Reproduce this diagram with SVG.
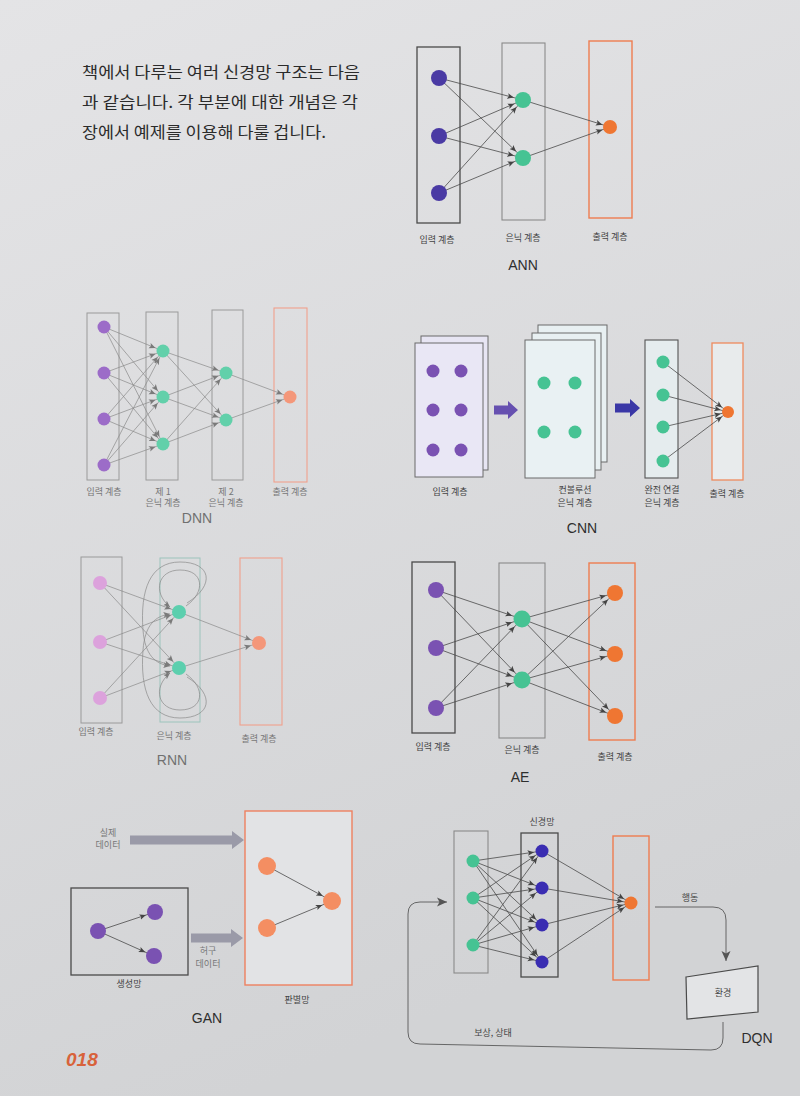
<svg xmlns="http://www.w3.org/2000/svg" width="800" height="1096" viewBox="0 0 800 1096">
<defs>
<linearGradient id="paper" x1="0" y1="0" x2="0.3" y2="1">
<stop offset="0" stop-color="#e4e4e6"/><stop offset="1" stop-color="#d2d3d5"/>
</linearGradient>
<marker id="m7" viewBox="0 0 14 8" refX="14" refY="4" markerWidth="14" markerHeight="8" orient="auto" markerUnits="userSpaceOnUse"><path d="M0,1.2 L6.5,4 L0,6.8 L1.5,4z" fill="#444"/></marker>
<marker id="m8" viewBox="0 0 14.5 8" refX="14.5" refY="4" markerWidth="14.5" markerHeight="8" orient="auto" markerUnits="userSpaceOnUse"><path d="M0,1.2 L6.5,4 L0,6.8 L1.5,4z" fill="#444"/></marker>
<marker id="m9" viewBox="0 0 16 8" refX="16" refY="4" markerWidth="16" markerHeight="8" orient="auto" markerUnits="userSpaceOnUse"><path d="M0,1.2 L6.5,4 L0,6.8 L1.5,4z" fill="#444"/></marker>
<marker id="m10" viewBox="0 0 17 8" refX="17" refY="4" markerWidth="17" markerHeight="8" orient="auto" markerUnits="userSpaceOnUse"><path d="M0,1.2 L6.5,4 L0,6.8 L1.5,4z" fill="#444"/></marker>
<marker id="lm7" viewBox="0 0 14.5 8" refX="14.5" refY="4" markerWidth="14.5" markerHeight="8" orient="auto" markerUnits="userSpaceOnUse"><path d="M0,1.2 L6.5,4 L0,6.8 L1.5,4z" fill="#7a7a7a"/></marker>
<marker id="lm8" viewBox="0 0 15 8" refX="15" refY="4" markerWidth="15" markerHeight="8" orient="auto" markerUnits="userSpaceOnUse"><path d="M0,1.2 L6.5,4 L0,6.8 L1.5,4z" fill="#7a7a7a"/></marker>
<marker id="lt" viewBox="0 0 7 8" refX="6.5" refY="4" markerWidth="7" markerHeight="8" orient="auto" markerUnits="userSpaceOnUse"><path d="M0,1.2 L6.5,4 L0,6.8 L1.5,4z" fill="#7a7a7a"/></marker>
<marker id="big" viewBox="0 0 10 10" refX="10" refY="5" markerWidth="10" markerHeight="10" orient="auto" markerUnits="userSpaceOnUse"><path d="M0,0.5 L10,5 L0,9.5 L2.5,5z" fill="#555"/></marker>
<style>
.box{fill:none;stroke:#4a4a4a;stroke-width:1.3}
.boxg{fill:none;stroke:#8a8a8a;stroke-width:1.1}
.boxl{fill:none;stroke:#9a9a9a;stroke-width:1}
.boxo{fill:none;stroke:#ee7d50;stroke-width:1.4}
.boxol{fill:none;stroke:#f0a08c;stroke-width:1.1}
.c{stroke:#4a4a4a;stroke-width:0.8;fill:none}
.cl{stroke:#8a8a8a;stroke-width:0.7;fill:none}
.lbl{font-family:"Noto Sans CJK KR",sans-serif;font-size:9px;fill:#444;text-anchor:middle}
.lbll{font-family:"Noto Sans CJK KR",sans-serif;font-size:9px;fill:#777;text-anchor:middle}
.ttl{font-family:"Liberation Sans",Arial,sans-serif;font-size:14px;fill:#2e2e2e;text-anchor:middle}
.ttll{font-family:"Liberation Sans",Arial,sans-serif;font-size:14px;fill:#707070;text-anchor:middle}
.intro{font-family:"Noto Sans CJK KR",sans-serif;font-size:15.5px;fill:#2b2b2b}
.pu{fill:#4a3aa4}.pu2{fill:#7a52b2}.pul{fill:#9c6cc8}.pk{fill:#dca2dc}
.gr{fill:#46c393}.grl{fill:#62d0aa}.tl{fill:#5ccfae}
.or{fill:#ef7632}.orl{fill:#f4977a}.sal{fill:#f48e62}
.bl{fill:#3a2db2}
</style>
</defs>
<rect width="800" height="1096" fill="url(#paper)"/>

<g id="intro-text" class="intro">
<text x="82" y="78" textLength="278" lengthAdjust="spacingAndGlyphs">책에서 다루는 여러 신경망 구조는 다음</text>
<text x="82" y="108" textLength="276" lengthAdjust="spacingAndGlyphs">과 같습니다. 각 부분에 대한 개념은 각</text>
<text x="82" y="138" textLength="244" lengthAdjust="spacingAndGlyphs">장에서 예제를 이용해 다룰 겁니다.</text>
</g>

<!-- ANN -->
<g id="ann">
<g id="ann-layers">
<rect id="ann-input-layer" class="box" x="417" y="47" width="43" height="176"/>
<rect id="ann-hidden-layer" class="boxg" x="502" y="43" width="43" height="177"/>
<rect id="ann-output-layer" class="boxo" x="589" y="41" width="43" height="177"/>
</g>
<g id="ann-connectors" class="c">
<path d="M439,78 L523,100" marker-end="url(#m9)"/>
<path d="M439,78 L523,158" marker-end="url(#m9)"/>
<path d="M439,136 L523,100" marker-end="url(#m9)"/>
<path d="M439,136 L523,158" marker-end="url(#m9)"/>
<path d="M439,193 L523,100" marker-end="url(#m9)"/>
<path d="M439,193 L523,158" marker-end="url(#m9)"/>
<path d="M523,100 L610,127" marker-end="url(#m8)"/>
<path d="M523,158 L610,127" marker-end="url(#m8)"/>
</g>
<g id="ann-i1"><circle class="pu" cx="439" cy="78" r="8"/></g>
<g id="ann-i2"><circle class="pu" cx="439" cy="136" r="8"/></g>
<g id="ann-i3"><circle class="pu" cx="439" cy="193" r="8"/></g>
<g id="ann-h1"><circle class="gr" cx="523" cy="100" r="8"/></g>
<g id="ann-h2"><circle class="gr" cx="523" cy="158" r="8"/></g>
<g id="ann-o1"><circle class="or" cx="610" cy="127" r="7"/></g>
<text class="lbl" x="437" y="243">입력 계층</text>
<text class="lbl" x="523" y="241">은닉 계층</text>
<text class="lbl" x="610" y="240">출력 계층</text>
<text class="ttl" x="523" y="270">ANN</text>
</g>

<!-- DNN -->
<g id="dnn">
<g id="dnn-layers">
<rect id="dnn-input-layer" class="boxl" x="87" y="313" width="32" height="167"/>
<rect id="dnn-hidden1-layer" class="boxl" x="146" y="312" width="32" height="168"/>
<rect id="dnn-hidden2-layer" class="boxl" x="212" y="310" width="31" height="170"/>
<rect id="dnn-output-layer" class="boxol" x="274" y="308" width="33" height="174"/>
</g>
<g id="dnn-connectors" class="cl">
<path d="M104,327 L163,351" marker-end="url(#lm7)"/>
<path d="M104,327 L163,397" marker-end="url(#lm7)"/>
<path d="M104,327 L163,444" marker-end="url(#lm7)"/>
<path d="M104,373 L163,351" marker-end="url(#lm7)"/>
<path d="M104,373 L163,397" marker-end="url(#lm7)"/>
<path d="M104,373 L163,444" marker-end="url(#lm7)"/>
<path d="M104,419 L163,351" marker-end="url(#lm7)"/>
<path d="M104,419 L163,397" marker-end="url(#lm7)"/>
<path d="M104,419 L163,444" marker-end="url(#lm7)"/>
<path d="M104,465 L163,351" marker-end="url(#lm7)"/>
<path d="M104,465 L163,397" marker-end="url(#lm7)"/>
<path d="M104,465 L163,444" marker-end="url(#lm7)"/>
<path d="M163,351 L226,373" marker-end="url(#lm7)"/>
<path d="M163,351 L226,420" marker-end="url(#lm7)"/>
<path d="M163,397 L226,373" marker-end="url(#lm7)"/>
<path d="M163,397 L226,420" marker-end="url(#lm7)"/>
<path d="M163,444 L226,373" marker-end="url(#lm7)"/>
<path d="M163,444 L226,420" marker-end="url(#lm7)"/>
<path d="M226,373 L290,397" marker-end="url(#lm7)"/>
<path d="M226,420 L290,397" marker-end="url(#lm7)"/>
</g>
<g id="dnn-i1"><circle class="pul" cx="104" cy="327" r="6.5"/></g>
<g id="dnn-i2"><circle class="pul" cx="104" cy="373" r="6.5"/></g>
<g id="dnn-i3"><circle class="pul" cx="104" cy="419" r="6.5"/></g>
<g id="dnn-i4"><circle class="pul" cx="104" cy="465" r="6.5"/></g>
<g id="dnn-h11"><circle class="grl" cx="163" cy="351" r="6.5"/></g>
<g id="dnn-h12"><circle class="grl" cx="163" cy="397" r="6.5"/></g>
<g id="dnn-h13"><circle class="grl" cx="163" cy="444" r="6.5"/></g>
<g id="dnn-h21"><circle class="grl" cx="226" cy="373" r="6.5"/></g>
<g id="dnn-h22"><circle class="grl" cx="226" cy="420" r="6.5"/></g>
<g id="dnn-o1"><circle class="orl" cx="290" cy="397" r="6.5"/></g>
<text class="lbll" x="104" y="495">입력 계층</text>
<text class="lbll" x="163" y="495">제 1</text>
<text class="lbll" x="163" y="506">은닉 계층</text>
<text class="lbll" x="226" y="495">제 2</text>
<text class="lbll" x="226" y="506">은닉 계층</text>
<text class="lbll" x="290" y="495">출력 계층</text>
<text class="ttll" x="197" y="523">DNN</text>
</g>

<!-- CNN -->
<g id="cnn">
<g id="cnn-input-layer">
<rect x="421" y="336" width="67" height="134" fill="#e7e5f3" stroke="#6a6a6a" stroke-width="1"/>
<rect x="415" y="343" width="68" height="134" fill="#e9e7f5" stroke="#6a6a6a" stroke-width="1"/>
</g>
<g id="cnn-conv-layer">
<rect x="538" y="325" width="69" height="137" fill="#e8f0f2" stroke="#6a6a6a" stroke-width="1"/>
<rect x="532" y="333" width="69" height="137" fill="#e8f0f2" stroke="#6a6a6a" stroke-width="1"/>
<rect x="525" y="340" width="70" height="138" fill="#e9f1f3" stroke="#6a6a6a" stroke-width="1"/>
</g>
<g id="cnn-fc-layer"><rect x="645" y="340" width="33" height="138" fill="#e5ecee" stroke="#555" stroke-width="1.1"/></g>
<g id="cnn-output-layer"><rect x="712" y="343" width="31" height="137" fill="#e8ebec" stroke="#ee8a5e" stroke-width="1.3"/></g>
<g id="cnn-arrows">
<polygon points="494,405.5 508,405.5 508,401 518,410 508,419 508,414.5 494,414.5" fill="#6650b0"/>
<polygon points="615,403.5 630,403.5 630,399 640,408 630,417 630,412.5 615,412.5" fill="#3a37a6"/>
</g>
<g id="cnn-connectors" class="c">
<path d="M663,362 L728,412" marker-end="url(#m7)"/>
<path d="M663,395 L728,412" marker-end="url(#m7)"/>
<path d="M663,427 L728,412" marker-end="url(#m7)"/>
<path d="M663,461 L728,412" marker-end="url(#m7)"/>
</g>
<g id="cnn-i1"><circle class="pu2" cx="433" cy="371" r="6.5"/></g>
<g id="cnn-i2"><circle class="pu2" cx="461" cy="371" r="6.5"/></g>
<g id="cnn-i3"><circle class="pu2" cx="433" cy="410" r="6.5"/></g>
<g id="cnn-i4"><circle class="pu2" cx="461" cy="410" r="6.5"/></g>
<g id="cnn-i5"><circle class="pu2" cx="433" cy="450" r="6.5"/></g>
<g id="cnn-i6"><circle class="pu2" cx="461" cy="450" r="6.5"/></g>
<g id="cnn-c1"><circle class="gr" cx="544" cy="383" r="6.5"/></g>
<g id="cnn-c2"><circle class="gr" cx="575" cy="383" r="6.5"/></g>
<g id="cnn-c3"><circle class="gr" cx="544" cy="432" r="6.5"/></g>
<g id="cnn-c4"><circle class="gr" cx="575" cy="432" r="6.5"/></g>
<g id="cnn-f1"><circle class="gr" cx="663" cy="362" r="6.5"/></g>
<g id="cnn-f2"><circle class="gr" cx="663" cy="395" r="6.5"/></g>
<g id="cnn-f3"><circle class="gr" cx="663" cy="427" r="6.5"/></g>
<g id="cnn-f4"><circle class="gr" cx="663" cy="461" r="6.5"/></g>
<g id="cnn-o1"><circle class="or" cx="728" cy="412" r="6"/></g>
<text class="lbl" x="450" y="495">입력 계층</text>
<text class="lbl" x="575" y="493">컨볼루션</text>
<text class="lbl" x="575" y="506">은닉 계층</text>
<text class="lbl" x="662" y="493">완전 연결</text>
<text class="lbl" x="662" y="506">은닉 계층</text>
<text class="lbl" x="727" y="497">출력 계층</text>
<text class="ttl" x="582" y="533">CNN</text>
</g>

<!-- RNN -->
<g id="rnn">
<g id="rnn-layers">
<rect id="rnn-input-layer" class="boxl" x="81" y="557" width="41" height="166"/>
<rect id="rnn-hidden-layer" x="160" y="558" width="40" height="164" fill="none" stroke="#9cc4bc" stroke-width="1"/>
<rect id="rnn-output-layer" class="boxol" x="240" y="558" width="42" height="167"/>
</g>
<g id="rnn-connectors" class="cl">
<path d="M100,583 L179,612" marker-end="url(#lm8)"/>
<path d="M100,583 L179,668" marker-end="url(#lm8)"/>
<path d="M100,642 L179,612" marker-end="url(#lm8)"/>
<path d="M100,642 L179,668" marker-end="url(#lm8)"/>
<path d="M100,698 L179,612" marker-end="url(#lm8)"/>
<path d="M100,698 L179,668" marker-end="url(#lm8)"/>
<path d="M179,612 L259,643" marker-end="url(#lm8)"/>
<path d="M179,668 L259,643" marker-end="url(#lm8)"/>
<path d="M186,606 C206,592 204,570 180,570 C158,570 152,592 170,607" marker-end="url(#lt)"/>
<path d="M187,603 C216,585 211,562 180,562 C150,562 140,590 143,630 C145,655 155,664 170,666" marker-end="url(#lt)"/>
<path d="M186,674 C206,688 204,710 180,710 C158,710 152,688 170,673" marker-end="url(#lt)"/>
<path d="M187,677 C216,695 211,718 180,718 C150,718 140,690 143,650 C145,625 155,616 170,614" marker-end="url(#lt)"/>
</g>
<g id="rnn-i1"><circle class="pk" cx="100" cy="583" r="7"/></g>
<g id="rnn-i2"><circle class="pk" cx="100" cy="642" r="7"/></g>
<g id="rnn-i3"><circle class="pk" cx="100" cy="698" r="7"/></g>
<g id="rnn-h1"><circle class="tl" cx="179" cy="612" r="7"/></g>
<g id="rnn-h2"><circle class="tl" cx="179" cy="668" r="7"/></g>
<g id="rnn-o1"><circle class="orl" cx="259" cy="643" r="7"/></g>
<text class="lbll" x="96" y="735">입력 계층</text>
<text class="lbll" x="174" y="739">은닉 계층</text>
<text class="lbll" x="259" y="742">출력 계층</text>
<text class="ttll" x="172" y="765">RNN</text>
</g>

<!-- AE -->
<g id="ae">
<g id="ae-layers">
<rect id="ae-input-layer" class="box" x="412" y="562" width="43" height="171"/>
<rect id="ae-hidden-layer" class="boxg" x="499" y="563" width="46" height="175"/>
<rect id="ae-output-layer" class="boxo" x="589" y="563" width="46" height="177"/>
</g>
<g id="ae-connectors" class="c">
<path d="M436,590 L522,619" marker-end="url(#m10)"/>
<path d="M436,590 L522,680" marker-end="url(#m10)"/>
<path d="M436,648 L522,619" marker-end="url(#m10)"/>
<path d="M436,648 L522,680" marker-end="url(#m10)"/>
<path d="M436,708 L522,619" marker-end="url(#m10)"/>
<path d="M436,708 L522,680" marker-end="url(#m10)"/>
<path d="M522,619 L615,593" marker-end="url(#m9)"/>
<path d="M522,619 L615,654" marker-end="url(#m9)"/>
<path d="M522,619 L615,716" marker-end="url(#m9)"/>
<path d="M522,680 L615,593" marker-end="url(#m9)"/>
<path d="M522,680 L615,654" marker-end="url(#m9)"/>
<path d="M522,680 L615,716" marker-end="url(#m9)"/>
</g>
<g id="ae-i1"><circle class="pu2" cx="436" cy="590" r="8"/></g>
<g id="ae-i2"><circle class="pu2" cx="436" cy="648" r="8"/></g>
<g id="ae-i3"><circle class="pu2" cx="436" cy="708" r="8"/></g>
<g id="ae-h1"><circle class="gr" cx="522" cy="619" r="8.5"/></g>
<g id="ae-h2"><circle class="gr" cx="522" cy="680" r="8.5"/></g>
<g id="ae-o1"><circle class="or" cx="615" cy="593" r="8"/></g>
<g id="ae-o2"><circle class="or" cx="615" cy="654" r="8"/></g>
<g id="ae-o3"><circle class="or" cx="615" cy="716" r="8"/></g>
<text class="lbl" x="433" y="750">입력 계층</text>
<text class="lbl" x="522" y="753">은닉 계층</text>
<text class="lbl" x="615" y="760">출력 계층</text>
<text class="ttl" x="520" y="782">AE</text>
</g>

<!-- GAN -->
<g id="gan">
<g id="gan-discriminator"><rect x="245" y="811" width="107" height="174" fill="#e2e3e5" stroke="#ee8060" stroke-width="1.4"/></g>
<g id="gan-generator"><rect class="box" x="71" y="888" width="117" height="87"/></g>
<g id="gan-data-arrows">
<polygon points="130,835.5 232,835.5 232,831 244,840 232,849 232,844.5 130,844.5" fill="#9a9aa8"/>
<polygon points="191,933.5 231,933.5 231,929 243,938 231,947 231,942.5 191,942.5" fill="#9a9aa8"/>
</g>
<g id="gan-connectors" class="c">
<path d="M98,931 L155,912" marker-end="url(#m9)"/>
<path d="M98,931 L154,956" marker-end="url(#m9)"/>
<path d="M267,866 L332,901" marker-end="url(#m10)"/>
<path d="M267,928 L332,901" marker-end="url(#m10)"/>
</g>
<g id="gan-g1"><circle class="pu2" cx="98" cy="931" r="8"/></g>
<g id="gan-g2"><circle class="pu2" cx="155" cy="912" r="8"/></g>
<g id="gan-g3"><circle class="pu2" cx="154" cy="956" r="8"/></g>
<g id="gan-d1"><circle class="sal" cx="267" cy="866" r="9"/></g>
<g id="gan-d2"><circle class="sal" cx="267" cy="928" r="9"/></g>
<g id="gan-d3"><circle class="sal" cx="332" cy="901" r="9"/></g>
<text class="lbll" x="108" y="836">실제</text>
<text class="lbll" x="108" y="848">데이터</text>
<text class="lbll" x="208" y="954">허구</text>
<text class="lbll" x="208" y="967">데이터</text>
<text class="lbl" x="129" y="987">생성망</text>
<text class="lbl" x="297" y="1003">판별망</text>
<text class="ttl" x="207" y="1023">GAN</text>
</g>

<!-- DQN -->
<g id="dqn">
<g id="dqn-layers">
<rect id="dqn-input-layer" class="boxg" x="454" y="831" width="34" height="142"/>
<rect id="dqn-hidden-layer" class="box" x="521" y="833" width="37" height="144"/>
<rect id="dqn-output-layer" class="boxo" x="613" y="836" width="36" height="144"/>
</g>
<g id="dqn-environment">
<polygon points="686,977 758,966 758,1012 687,1019" fill="#e3e4e6" stroke="#4a4a4a" stroke-width="1.2"/>
<text class="lbl" x="723" y="996">환경</text>
</g>
<g id="dqn-connectors" class="c">
<path d="M473,861 L542,851" marker-end="url(#m8)"/>
<path d="M473,861 L542,888" marker-end="url(#m8)"/>
<path d="M473,861 L542,925" marker-end="url(#m8)"/>
<path d="M473,861 L542,962" marker-end="url(#m8)"/>
<path d="M473,898 L542,851" marker-end="url(#m8)"/>
<path d="M473,898 L542,888" marker-end="url(#m8)"/>
<path d="M473,898 L542,925" marker-end="url(#m8)"/>
<path d="M473,898 L542,962" marker-end="url(#m8)"/>
<path d="M473,945 L542,851" marker-end="url(#m8)"/>
<path d="M473,945 L542,888" marker-end="url(#m8)"/>
<path d="M473,945 L542,925" marker-end="url(#m8)"/>
<path d="M473,945 L542,962" marker-end="url(#m8)"/>
<path d="M542,851 L631,903" marker-end="url(#m8)"/>
<path d="M542,888 L631,903" marker-end="url(#m8)"/>
<path d="M542,925 L631,903" marker-end="url(#m8)"/>
<path d="M542,962 L631,903" marker-end="url(#m8)"/>
<path d="M655,907 L713,907 Q726,907 726,920 L726,961" marker-end="url(#big)"/>
<path d="M723,1022 L723,1038 Q723,1050 711,1050 L420,1044 Q408,1044 408,1032 L408,914 Q408,902 420,902 L447,902" marker-end="url(#big)"/>
</g>
<g id="dqn-g1"><circle class="gr" cx="473" cy="861" r="6.5"/></g>
<g id="dqn-g2"><circle class="gr" cx="473" cy="898" r="6.5"/></g>
<g id="dqn-g3"><circle class="gr" cx="473" cy="945" r="6.5"/></g>
<g id="dqn-b1"><circle class="bl" cx="542" cy="851" r="6.5"/></g>
<g id="dqn-b2"><circle class="bl" cx="542" cy="888" r="6.5"/></g>
<g id="dqn-b3"><circle class="bl" cx="542" cy="925" r="6.5"/></g>
<g id="dqn-b4"><circle class="bl" cx="542" cy="962" r="6.5"/></g>
<g id="dqn-o1"><circle class="or" cx="631" cy="903" r="6.5"/></g>
<text class="lbl" x="542" y="825">신경망</text>
<text class="lbl" x="690" y="901">행동</text>
<text class="lbl" x="493" y="1036">보상, 상태</text>
<text class="ttl" x="757" y="1043">DQN</text>
</g>

<text id="page-number" x="66" y="1066" font-family="Liberation Sans, Arial, sans-serif" font-size="19" font-weight="bold" font-style="italic" fill="#d8623a">018</text>
</svg>
